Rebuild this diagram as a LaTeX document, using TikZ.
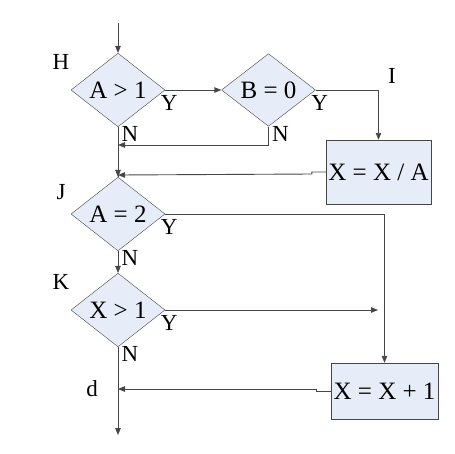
\documentclass[tikz,border=0pt]{standalone}
\usepackage{fontspec}
\setmainfont{Liberation Serif}
\usetikzlibrary{shapes.geometric,arrows.meta,calc}
\definecolor{fillc}{RGB}{230,237,248}
\definecolor{linec}{RGB}{70,70,70}
\tikzset{
  dec/.style={diamond,draw=linec,fill=fillc,inner sep=0pt,minimum width=94pt,minimum height=55pt,font=\fontsize{25}{25}\selectfont},
  procbox/.style={rectangle,draw=linec,fill=fillc,inner sep=0pt,font=\fontsize{25}{25}\selectfont},
  lab/.style={inner sep=0pt,font=\fontsize{23}{23}\selectfont},
  conn/.style={draw=linec,line width=0.9pt},
  arr/.style={conn,-{Triangle[length=7pt,width=5.5pt]}}
}
\begin{document}
\begin{tikzpicture}[x=1pt,y=-1pt]
\useasboundingbox (0,0) rectangle (455,453);
\coordinate (start) at (118,23);
\node[dec] (h) at (118,90) {A > 1};
\node[dec] (b) at (268.5,90) {B = 0};
\node[procbox,minimum width=105pt,minimum height=64pt] (xa) at (378.5,172) {X = X / A};
\node[dec] (j) at (118,214) {A = 2};
\node[dec] (k) at (118,310) {X > 1};
\node[procbox,minimum width=107pt,minimum height=56pt] (xp) at (384.5,391) {X = X + 1};
\coordinate (endp) at (118,435);
\coordinate (m1) at (118,145);
\coordinate (m2) at (118,175);
\coordinate (md) at (118,389);
\coordinate (yk) at (378,310);
% labels
\node[lab] (lh) at (61,62) {H};
\node[lab] (lj) at (61,192) {J};
\node[lab] (lk) at (61,282) {K};
\node[lab] (li) at (392,76) {I};
\node[lab] (ld) at (92,389) {d};
\node[lab] (hy) at ($(h.east)+(4,13)$) {Y};
\node[lab] (hn) at ($(h.south)+(12,7)$) {N};
\node[lab] (by) at ($(b.east)+(4,13)$) {Y};
\node[lab] (bn) at ($(b.south)+(12,7)$) {N};
\node[lab] (jy) at ($(j.east)+(4,13)$) {Y};
\node[lab] (jn) at ($(j.south)+(12,7)$) {N};
\node[lab] (ky) at ($(k.east)+(4,13)$) {Y};
\node[lab] (kn) at ($(k.south)+(12,7)$) {N};
% connectors
\draw[arr] (start) -- (h.north);
\draw[arr] (h.east) -- (b.west);
\draw[arr] (b.east) -| (xa.north);
\draw[arr] (b.south) |- (m1);
\draw[conn] (h.south) -- (j.north);
\draw[arr] (m1) -- (j.north);
\draw[arr] (xa.west) -- ++(-14,0) -- ++(0,2) -- (m2);
\draw[arr] (j.east) -| (xp.north);
\draw[arr] (j.south) -- (k.north);
\draw[arr] (k.east) -- (yk);
\draw[arr] (k.south) -- (endp);
\draw[arr] (xp.west) -- ++(-14,0) -- ++(0,-2) -- (md);
\end{tikzpicture}
\end{document}
